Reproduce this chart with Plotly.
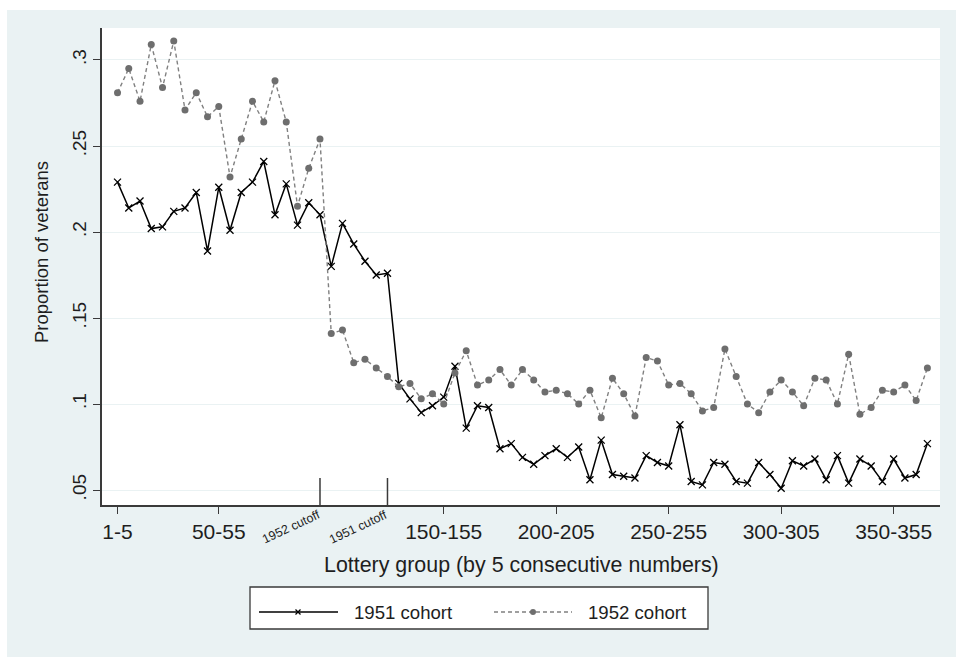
import plotly.graph_objects as go

# Lottery groups of 5 consecutive numbers (1-5, 6-10, ..., 361-365), plotted at the group's upper number
group_pos = list(range(5, 366, 5))

cohort_1951 = [0.229, 0.214, 0.218, 0.202, 0.203, 0.212, 0.214, 0.223, 0.189, 0.226,
               0.201, 0.223, 0.229, 0.241, 0.210, 0.228, 0.204, 0.217, 0.210, 0.180,
               0.205, 0.193, 0.183, 0.175, 0.176, 0.112, 0.103, 0.095, 0.099, 0.104,
               0.122, 0.086, 0.099, 0.098, 0.074, 0.077, 0.069, 0.065, 0.070, 0.074,
               0.069, 0.075, 0.056, 0.079, 0.059, 0.058, 0.057, 0.070, 0.066, 0.064,
               0.088, 0.055, 0.053, 0.066, 0.065, 0.055, 0.054, 0.066, 0.059, 0.051,
               0.067, 0.064, 0.068, 0.056, 0.070, 0.054, 0.068, 0.064, 0.055, 0.068,
               0.057, 0.059, 0.077]

cohort_1952 = [0.281, 0.295, 0.276, 0.309, 0.284, 0.311, 0.271, 0.281, 0.267, 0.273,
               0.232, 0.254, 0.276, 0.264, 0.288, 0.264, 0.215, 0.237, 0.254, 0.141,
               0.143, 0.124, 0.126, 0.121, 0.116, 0.110, 0.112, 0.103, 0.106, 0.100,
               0.118, 0.131, 0.111, 0.114, 0.120, 0.111, 0.120, 0.114, 0.107, 0.108,
               0.106, 0.100, 0.108, 0.092, 0.115, 0.106, 0.093, 0.127, 0.125, 0.111,
               0.112, 0.106, 0.096, 0.098, 0.132, 0.116, 0.100, 0.095, 0.107, 0.114,
               0.107, 0.099, 0.115, 0.114, 0.100, 0.129, 0.094, 0.098, 0.108, 0.107,
               0.111, 0.102, 0.121]

x_tickvals = [5, 50, 150, 200, 250, 300, 350]
x_ticktext = ["1-5", "50-55", "150-155", "200-205", "250-255", "300-305", "350-355"]
y_tickvals = [0.05, 0.10, 0.15, 0.20, 0.25, 0.30]
y_ticktext = [".05", ".1", ".15", ".2", ".25", ".3"]

cutoff_pos = [95, 125]
cutoff_labels = ["1952 cutoff", "1951 cutoff"]
series_names = ["1951 cohort", "1952 cohort"]

W, H = 956, 657
ML, MR, MT, MB = 102, 16, 28, 152
PW, PH = W - ML - MR, H - MT - MB
BG = "#EAF2F3"
AX = "#3a3a3a"
TXT = "#1e1e1e"
FONT = "Liberation Sans, Arial, sans-serif"
GRAY_M = "#6e6e6e"
GRAY_L = "#808080"


def px(x):
    return (x - ML) / PW


def py(y):
    return (H - MB - y) / PH


fig = go.Figure()
fig.add_trace(go.Scatter(
    x=group_pos, y=cohort_1951, name=series_names[0], mode="lines+markers",
    line=dict(color="black", width=1.5),
    marker=dict(symbol="x-thin", size=7, line=dict(color="black", width=1.3)),
    showlegend=False))
fig.add_trace(go.Scatter(
    x=group_pos, y=cohort_1952, name=series_names[1], mode="lines+markers",
    line=dict(color=GRAY_L, width=1.4, dash="4px,3px"),
    marker=dict(symbol="circle", size=7, color=GRAY_M),
    showlegend=False))

shapes = []
annotations = []

# white strips at top and left edge of the image
shapes.append(dict(type="rect", xref="paper", yref="paper", x0=px(-5), x1=px(W + 5),
                   y0=py(10), y1=py(-5), fillcolor="white", line=dict(width=0), layer="above"))
shapes.append(dict(type="rect", xref="paper", yref="paper", x0=px(-5), x1=px(7),
                   y0=py(H + 5), y1=py(-5), fillcolor="white", line=dict(width=0), layer="above"))

# cutoff marks
for c, lab in zip(cutoff_pos, cutoff_labels):
    shapes.append(dict(type="line", xref="x", yref="paper", x0=c, x1=c,
                       y0=py(507), y1=py(478), line=dict(color=AX, width=1.5)))
    annotations.append(dict(x=c, xref="x", y=py(526.5), yref="paper",
                            xshift=-29, text=lab, showarrow=False, textangle=-25,
                            font=dict(size=12.5, family=FONT, color=TXT),
                            xanchor="center", yanchor="middle"))

# axis titles
annotations.append(dict(x=px(521), y=py(565), xref="paper", yref="paper",
                        text="Lottery group (by 5 consecutive numbers)", showarrow=False,
                        font=dict(size=21.4, family=FONT, color=TXT),
                        xanchor="center", yanchor="middle"))
annotations.append(dict(x=px(42), y=py(252), xref="paper", yref="paper",
                        text="Proportion of veterans", showarrow=False, textangle=-90,
                        font=dict(size=18.5, family=FONT, color=TXT),
                        xanchor="center", yanchor="middle"))

# legend box
shapes.append(dict(type="rect", xref="paper", yref="paper", x0=px(250), x1=px(708),
                   y0=py(629), y1=py(587), fillcolor="white", line=dict(color=AX, width=1.3)))
ly = 612
shapes.append(dict(type="line", xref="paper", yref="paper", x0=px(259), x1=px(338),
                   y0=py(ly), y1=py(ly), line=dict(color="black", width=1.5)))
for dx in (-2.5, 2.5):
    shapes.append(dict(type="line", xref="paper", yref="paper", x0=px(298 - dx), x1=px(298 + dx),
                       y0=py(ly - 2.5), y1=py(ly + 2.5), line=dict(color="black", width=1.2)))
shapes.append(dict(type="line", xref="paper", yref="paper", x0=px(494), x1=px(572),
                   y0=py(ly), y1=py(ly), line=dict(color=GRAY_L, width=1.4, dash="4px,3px")))
shapes.append(dict(type="circle", xref="paper", yref="paper", x0=px(530), x1=px(536),
                   y0=py(ly + 3), y1=py(ly - 3), fillcolor=GRAY_M, line=dict(color=GRAY_M, width=0)))
annotations.append(dict(x=px(352), y=py(ly), xref="paper", yref="paper", text=series_names[0],
                        showarrow=False, xanchor="left", yanchor="middle",
                        font=dict(size=18.6, family=FONT, color=TXT)))
annotations.append(dict(x=px(586), y=py(ly), xref="paper", yref="paper", text=series_names[1],
                        showarrow=False, xanchor="left", yanchor="middle",
                        font=dict(size=18.6, family=FONT, color=TXT)))

fig.update_layout(
    width=W, height=H,
    margin=dict(l=ML, r=MR, t=MT, b=MB, pad=0),
    paper_bgcolor=BG, plot_bgcolor="white",
    font=dict(family=FONT, color=TXT),
    showlegend=False,
    shapes=shapes, annotations=annotations,
    xaxis=dict(range=[-1.9, 370.6], tickmode="array", tickvals=x_tickvals, ticktext=x_ticktext,
               ticks="outside", ticklen=7, tickwidth=1.3, tickcolor=AX,
               showline=True, linecolor=AX, linewidth=1.5, showgrid=False, zeroline=False,
               tickfont=dict(size=21, family=FONT, color=TXT)),
    yaxis=dict(range=[0.0413, 0.3186], tickmode="array", tickvals=y_tickvals, ticktext=y_ticktext,
               tickangle=-90, ticks="outside", ticklen=7, tickwidth=1.3, tickcolor=AX,
               showline=True, linecolor=AX, linewidth=1.5, showgrid=True, gridcolor=BG, gridwidth=1.2,
               zeroline=False, tickfont=dict(size=19, family=FONT, color=TXT)),
)

fig.write_html("out.html", config={"displayModeBar": False},
               post_script="document.body.style.margin='0';document.body.style.overflow='hidden';")
